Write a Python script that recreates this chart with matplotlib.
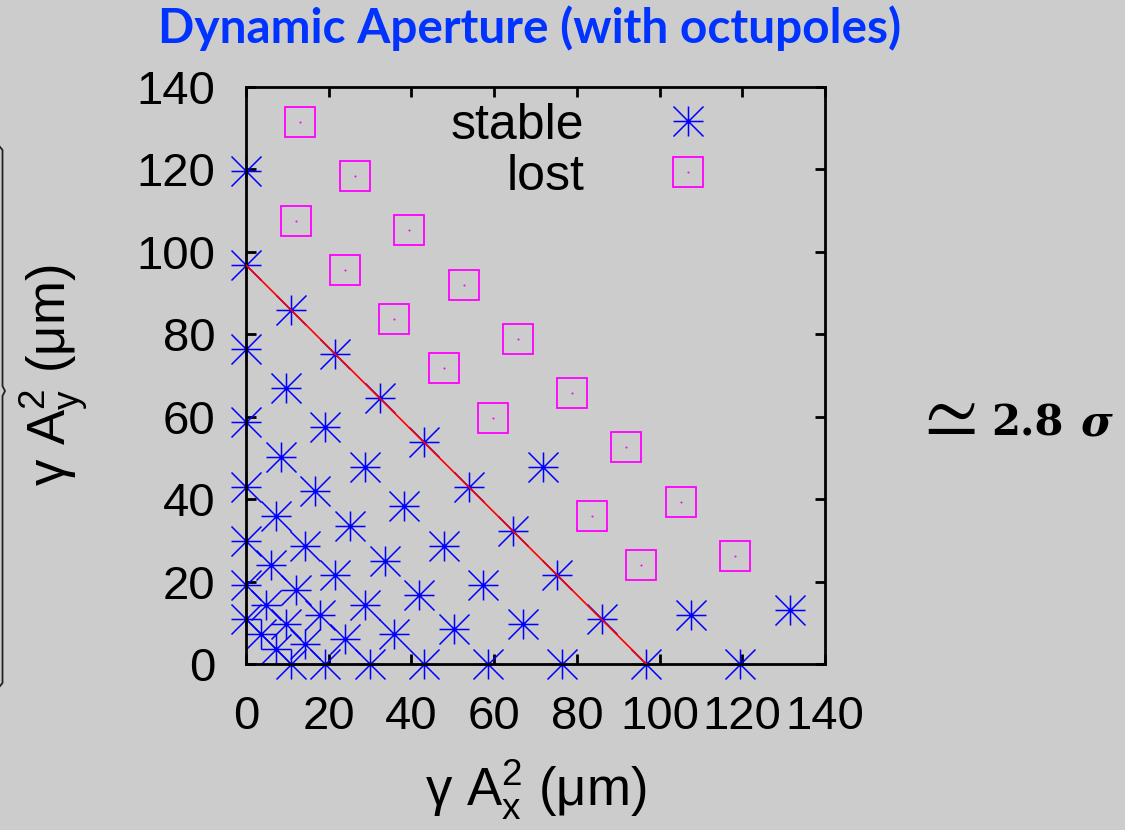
import matplotlib
matplotlib.use("Agg")
import matplotlib.pyplot as plt
from matplotlib.path import Path
from matplotlib.lines import Line2D
from matplotlib.legend_handler import HandlerTuple

plt.rcParams['font.family'] = ['Liberation Sans', 'DejaVu Sans']
plt.rcParams['mathtext.default'] = 'regular'

# ---------------- data ----------------
stable_x = [0, 3.6, 7.2, 10.8,
            0, 4.8, 9.6, 14.3, 19.1,
            0, 6.0, 12.0, 17.9, 23.9, 29.9,
            0, 7.2, 14.3, 21.5, 28.7, 35.8, 43.0,
            0, 8.4, 16.7, 25.1, 33.5, 41.9, 50.2, 58.6,
            0, 9.6, 19.1, 28.7, 38.3, 47.8, 57.4, 66.9, 76.5,
            0, 10.8, 21.5, 32.3, 43.0, 53.8, 64.5, 75.3, 86.0, 96.8,
            0, 71.7, 107.6, 119.5,
            131.5]
stable_y = [10.8, 7.2, 3.6, 0,
            19.1, 14.3, 9.6, 4.8, 0,
            29.9, 23.9, 17.9, 12.0, 6.0, 0,
            43.0, 35.8, 28.7, 21.5, 14.3, 7.2, 0,
            58.6, 50.2, 41.9, 33.5, 25.1, 16.7, 8.4, 0,
            76.5, 66.9, 57.4, 47.8, 38.3, 28.7, 19.1, 9.6, 0,
            96.8, 86.0, 75.3, 64.5, 53.8, 43.0, 32.3, 21.5, 10.8, 0,
            119.5, 47.8, 12.0, 0,
            13.1]
lost_x = [12.0, 23.9, 35.9, 47.8, 59.8, 83.7, 95.6,
          13.1, 26.3, 39.4, 52.6, 65.7, 78.9, 92.0, 105.2, 118.3]
lost_y = [107.6, 95.6, 83.7, 71.7, 59.8, 35.9, 23.9,
          131.5, 118.3, 105.2, 92.0, 78.9, 65.7, 52.6, 39.4, 26.3]
da_x = [0, 96.8]
da_y = [96.8, 0]
ticks = [0, 20, 40, 60, 80, 100, 120, 140]

BG = '#cccccc'
W, H = 1125, 830
fig = plt.figure(figsize=(W / 100, H / 100), dpi=100, facecolor=BG)
ax = fig.add_axes([246 / W, 1 - 664 / H, 579 / W, 577 / H], facecolor=BG)

# gnuplot-like asterisk (+ and x)
star = Path([(-1, 0), (1, 0), (0, -1), (0, 1), (-1, -1), (1, 1), (-1, 1), (1, -1)],
            [Path.MOVETO, Path.LINETO] * 4)

ax.plot(da_x, da_y, color='#ff0000', lw=1.2, zorder=3)
h_st, = ax.plot(stable_x, stable_y, ls='none', marker=star, ms=21.6,
                mec='#0000ff', mfc='none', mew=1.1, color='#0000ff', zorder=2, clip_on=False)
h_lo, = ax.plot(lost_x, lost_y, ls='none', marker='s', ms=21.6, mec='#ff00ff',
                mfc='none', mew=1.3, zorder=2)
h_dot, = ax.plot(lost_x, lost_y, ls='none', marker='o', ms=1.5, mec='none',
                 mfc='#ff00ff', zorder=2)

ax.set_xlim(0, 140)
ax.set_ylim(0, 140)
ax.set_xticks(ticks)
ax.set_yticks(ticks)
ax.tick_params(direction='in', length=7, width=2, top=True, right=True,
               labelsize=34, colors='black')
ax.tick_params(axis='x', pad=22)
ax.tick_params(axis='y', pad=22)
for s in ax.spines.values():
    s.set_linewidth(2.0)

ax.set_xlabel('γ $A_x^2$ (μm)', fontsize=38, labelpad=14)
ax.set_ylabel('γ $A_y^2$ (μm)', fontsize=38)
ax.yaxis.set_label_coords(-0.332, 0.5)
ax.yaxis.label.set_verticalalignment('center')

leg = ax.legend([h_st, (h_lo, h_dot)], ['stable', 'lost'], markerfirst=False,
                frameon=False, fontsize=36, handlelength=1.0, handletextpad=1.57,
                borderpad=0, labelspacing=0.1, loc='upper right',
                bbox_to_anchor=(0.849, 1.016),
                handler_map={tuple: HandlerTuple(ndivide=1)})

fig.text(530 / W, 1 - 28 / H, 'Dynamic Aperture (with octupoles)', color='#0033ff',
         fontsize=34.4, fontweight='bold', family=['Lato', 'DejaVu Sans'],
         ha='center', va='center')

fig.text(911 / W, 1 - 436 / H, r'$\simeq$', fontsize=56, math_fontfamily='cm',
         ha='left', va='baseline')
fig.text(991 / W, 1 - 435 / H, '2.8', fontsize=30, fontweight='bold',
         family=['DejaVu Serif'], ha='left', va='baseline')
fig.text(1080 / W, 1 - 435 / H, 'σ', fontsize=31, fontweight='bold', fontstyle='italic',
         family=['DejaVu Serif'], ha='left', va='baseline')

# cut-off brace at left edge
bx = [0, 2.5, 2.5, 5, 2.5, 2.5, 0]
by = [147, 150, 386, 391, 396, 683, 686]
fig.add_artist(Line2D([v / W for v in bx], [1 - v / H for v in by], color='#222222',
                      lw=1.3, transform=fig.transFigure))

fig.savefig('out.png', dpi=100, facecolor=BG)
